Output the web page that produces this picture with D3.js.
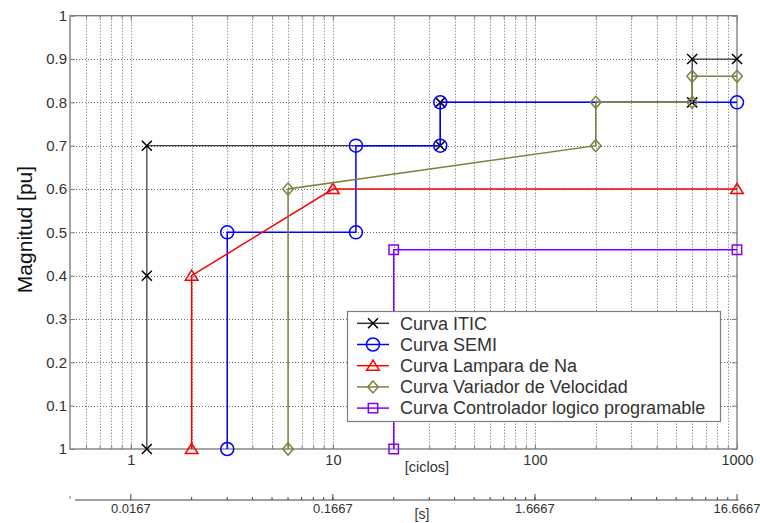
<!DOCTYPE html>
<html>
<head>
<meta charset="utf-8">
<script src="https://cdn.jsdelivr.net/npm/d3@7"></script>
<style>
  body { margin: 0; background: #fff; }
  svg { display: block; }
  text { font-family: "Liberation Sans", Arial, sans-serif; }
</style>
</head>
<body>
<div id="chart"></div>
<script>
// data (x in cycles, y in pu)
const iticCycles = [1.2, 1.2, 1.2, 34, 34, 600, 600, 1000];
const iticMag    = [0, 0.4, 0.7, 0.7, 0.8, 0.8, 0.9, 0.9];
const semiCycles = [3, 3, 13, 13, 34, 34, 1000];
const semiMag    = [0, 0.5, 0.5, 0.7, 0.7, 0.8, 0.8];
const naCycles   = [2, 2, 10, 1000];
const naMag      = [0, 0.4, 0.6, 0.6];
const varCycles  = [6, 6, 200, 200, 600, 600, 1000];
const varMag     = [0, 0.6, 0.7, 0.8, 0.8, 0.86, 0.86];
const plcCycles  = [20, 20, 1000];
const plcMag     = [0, 0.46, 0.46];

const seriesNames = ["Curva ITIC", "Curva SEMI", "Curva Lampara de Na",
  "Curva Variador de Velocidad", "Curva Controlador logico programable"];

const cycleTicks = [1, 10, 100, 1000];
const secTickLabels = ["0.0167", "0.1667", "1.6667", "16.6667"];
const magTicks = [0, 0.1, 0.2, 0.3, 0.4, 0.5, 0.6, 0.7, 0.8, 0.9, 1];
const magTickLabels = ["1", "0.1", "0.2", "0.3", "0.4", "0.5", "0.6", "0.7", "0.8", "0.9", "1"];

//styles for each series
const colors = ["#000000", "#0000ff", "#ff0000", "#808040", "#8000ff"];
const markers = ["x", "circle", "triangle", "diamond", "square"];

const width = 760, height = 523;
const marginLeft = 70, plotRight = 737, marginTop = 15.7, plotBottom = 449;

const svg = d3.select("#chart").append("svg")
  .attr("width", width)
  .attr("height", height);

const x = d3.scaleLog().domain([0.5, 1000]).range([marginLeft, plotRight]);
const y = d3.scaleLinear().domain([0, 1]).range([plotBottom, marginTop]);

const allTicks = x.ticks();
const minorTicks = allTicks.filter(t => t > 0.5 && t < 1000);

//dotted grid
const grid = svg.append("g")
  .attr("stroke", "#6a6a6a")
  .attr("stroke-width", 1)
  .attr("stroke-dasharray", "1,2");
grid.selectAll("line.v").data(minorTicks).join("line")
  .attr("class", "v")
  .attr("x1", d => Math.round(x(d)) + 0.5).attr("x2", d => Math.round(x(d)) + 0.5)
  .attr("y1", marginTop).attr("y2", plotBottom);
grid.selectAll("line.h").data(magTicks.slice(1, -1)).join("line")
  .attr("class", "h")
  .attr("x1", marginLeft).attr("x2", plotRight)
  .attr("y1", d => Math.round(y(d)) + 0.5).attr("y2", d => Math.round(y(d)) + 0.5);

//inward ticks on all four sides
const tickColor = "#7f7f7f";
function styleAxis(g) {
  g.select(".domain").remove();
  g.selectAll(".tick line").attr("stroke", tickColor);
  g.selectAll("text")
    .attr("fill", "#333")
    .attr("font-family", "\"Liberation Sans\", Arial, sans-serif");
}

svg.append("g")
  .attr("transform", `translate(0,${plotBottom})`)
  .call(d3.axisBottom(x).tickValues(minorTicks).tickSize(-3).tickFormat(""))
  .call(styleAxis);
svg.append("g")
  .attr("transform", `translate(0,${marginTop})`)
  .call(d3.axisTop(x).tickValues(minorTicks).tickSize(-3).tickFormat(""))
  .call(styleAxis);
svg.append("g")
  .attr("transform", `translate(0,${plotBottom})`)
  .call(d3.axisBottom(x).tickValues(cycleTicks).tickSize(-5).tickPadding(6).tickFormat(d3.format("d")))
  .call(styleAxis)
  .selectAll("text").attr("font-size", 14.5);
svg.append("g")
  .attr("transform", `translate(0,${marginTop})`)
  .call(d3.axisTop(x).tickValues(cycleTicks).tickSize(-5).tickFormat(""))
  .call(styleAxis);
svg.append("g")
  .attr("transform", `translate(${marginLeft},0)`)
  .call(d3.axisLeft(y).tickValues(magTicks).tickSize(-5).tickPadding(3)
    .tickFormat((d, i) => magTickLabels[i]))
  .call(styleAxis)
  .selectAll("text").attr("font-size", 15);
svg.append("g")
  .attr("transform", `translate(${plotRight},0)`)
  .call(d3.axisRight(y).tickValues(magTicks).tickSize(-5).tickFormat(""))
  .call(styleAxis);

//frame
svg.append("rect")
  .attr("x", marginLeft).attr("y", marginTop)
  .attr("width", plotRight - marginLeft).attr("height", plotBottom - marginTop)
  .attr("fill", "none")
  .attr("stroke", tickColor)
  .attr("stroke-width", 1.4);

//second axis in seconds (same positions, 60 cycles per second)
const sec = d3.scaleLog().domain([0.5 / 60, 1000 / 60]).range([marginLeft, plotRight]);
const secY = 500;
const secAxis = svg.append("g");
secAxis.append("line")
  .attr("x1", 75).attr("x2", plotRight + 1.5)
  .attr("y1", secY).attr("y2", secY)
  .attr("stroke", tickColor).attr("stroke-width", 1.4);
secAxis.append("line")
  .attr("x1", marginLeft).attr("x2", marginLeft)
  .attr("y1", secY - 4).attr("y2", secY - 1)
  .attr("stroke", tickColor);
secAxis.selectAll("line.minor").data(minorTicks.filter(d => d > 1)).join("line")
  .attr("class", "minor")
  .attr("x1", d => sec(d / 60)).attr("x2", d => sec(d / 60))
  .attr("y1", secY - 3).attr("y2", secY)
  .attr("stroke", "#444");
secAxis.selectAll("line.major").data(cycleTicks).join("line")
  .attr("class", "major")
  .attr("x1", d => sec(d / 60)).attr("x2", d => sec(d / 60))
  .attr("y1", secY - 6).attr("y2", secY)
  .attr("stroke", "#444");
secAxis.selectAll("text").data(cycleTicks).join("text")
  .attr("x", d => sec(d / 60))
  .attr("y", 513)
  .attr("text-anchor", "middle")
  .attr("font-size", 13)
  .attr("fill", "#333")
  .text((d, i) => secTickLabels[i]);

//axis titles
svg.append("text")
  .attr("x", 427).attr("y", 472)
  .attr("text-anchor", "middle")
  .attr("font-size", 14.5)
  .attr("fill", "#333")
  .text("[ciclos]");
svg.append("text")
  .attr("x", 422).attr("y", 519)
  .attr("text-anchor", "middle")
  .attr("font-size", 14)
  .attr("fill", "#333")
  .text("[s]");
svg.append("text")
  .attr("transform", "translate(31.5,229.5) rotate(-90)")
  .attr("text-anchor", "middle")
  .attr("font-size", 21)
  .attr("fill", "#111")
  .text("Magnitud [pu]");

//marker shapes
function markerPath(type) {
  switch (type) {
    case "x": return "M-5,-5L5,5M-5,5L5,-5";
    case "circle": return d3.arc()({ innerRadius: 0, outerRadius: 6.5, startAngle: 0, endAngle: 2 * Math.PI });
    case "triangle": return "M0,-5.5L6.3,4.5L-6.3,4.5Z";
    case "diamond": return "M0,-6L5.3,0L0,6L-5.3,0Z";
    case "square": return "M-4.7,-4.7H4.7V4.7H-4.7Z";
  }
}

const series = [
  [iticCycles, iticMag], [semiCycles, semiMag], [naCycles, naMag],
  [varCycles, varMag], [plcCycles, plcMag]
].map(([xs, ys], i) => ({
  name: seriesNames[i],
  color: colors[i],
  marker: markers[i],
  points: xs.map((c, j) => [c, ys[j]])
}));

const line = d3.line().x(d => x(d[0])).y(d => y(d[1]));

const curves = svg.append("g").selectAll("g").data(series).join("g");
curves.append("path")
  .attr("d", d => line(d.points))
  .attr("fill", "none")
  .attr("stroke", d => d.color)
  .attr("stroke-width", d => d.marker === "x" ? 1.3 : 1.5)
  .attr("stroke-opacity", d => d.marker === "x" ? 0.75 : 1);
curves.each(function (s) {
  d3.select(this).selectAll("path.m").data(s.points).join("path")
    .attr("class", "m")
    .attr("transform", d => `translate(${x(d[0])},${y(d[1])})`)
    .attr("d", markerPath(s.marker))
    .attr("fill", "none")
    .attr("stroke", s.color)
    .attr("stroke-width", 1.5);
});

//legend
const legend = svg.append("g");
legend.append("rect")
  .attr("x", 347.5).attr("y", 311.5)
  .attr("width", 373).attr("height", 110)
  .attr("fill", "#fff")
  .attr("stroke", tickColor)
  .attr("stroke-width", 1.2);
const rows = legend.selectAll("g.row").data(series).join("g")
  .attr("class", "row")
  .attr("transform", (d, i) => `translate(0,${323.3 + i * 21.2})`);
rows.append("line")
  .attr("x1", 357).attr("x2", 389)
  .attr("stroke", d => d.color)
  .attr("stroke-width", 1.5)
  .attr("stroke-opacity", d => d.marker === "x" ? 0.8 : 1);
rows.append("path")
  .attr("transform", "translate(373,0)")
  .attr("d", d => markerPath(d.marker))
  .attr("fill", "none")
  .attr("stroke", d => d.color)
  .attr("stroke-width", 1.5);
rows.append("text")
  .attr("x", 400)
  .attr("dy", "0.35em")
  .attr("font-size", 18)
  .attr("fill", "#333")
  .text(d => d.name);
</script>
</body>
</html>
